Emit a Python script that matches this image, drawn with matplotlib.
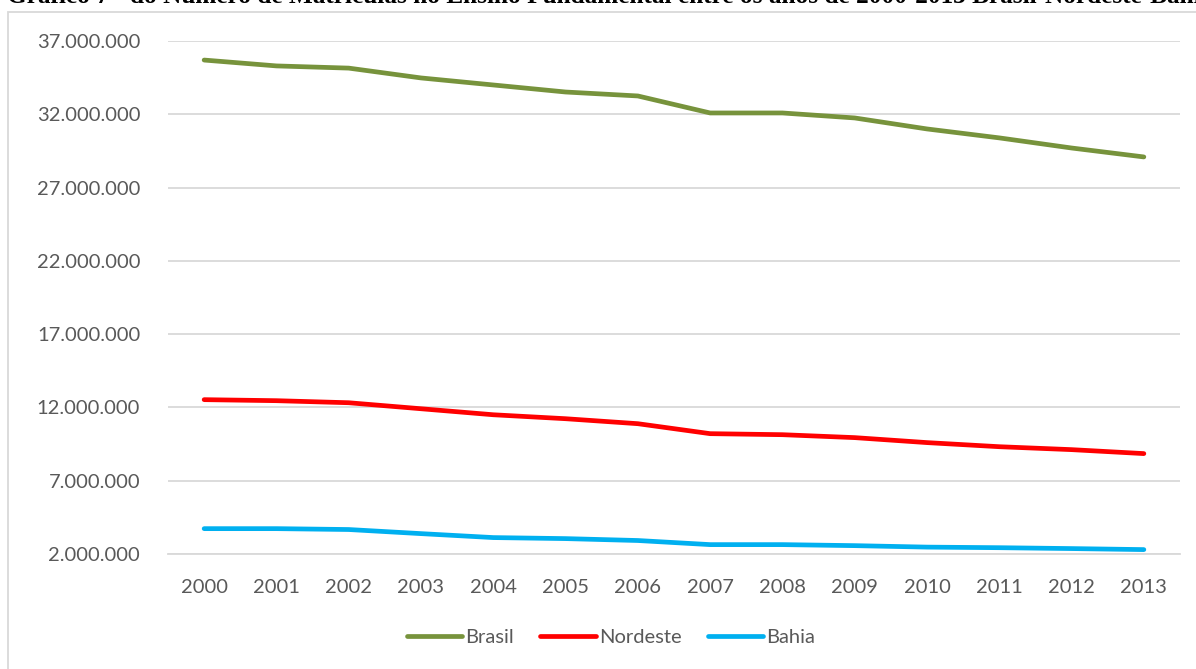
import numpy as np
import matplotlib
matplotlib.use('Agg')
import matplotlib.pyplot as plt
from matplotlib.ticker import FuncFormatter
from matplotlib.patches import Rectangle

years = ['2000', '2001', '2002', '2003', '2004', '2005', '2006',
         '2007', '2008', '2009', '2010', '2011', '2012', '2013']
brasil = [35.70, 35.30, 35.15, 34.48, 34.00, 33.52, 33.25,
          32.09, 32.09, 31.75, 31.00, 30.39, 29.70, 29.09]
nordeste = [12.53, 12.46, 12.32, 11.91, 11.50, 11.23, 10.89,
            10.21, 10.14, 9.94, 9.60, 9.32, 9.12, 8.85]
bahia = [3.73, 3.73, 3.67, 3.39, 3.12, 3.05, 2.92,
         2.64, 2.64, 2.57, 2.47, 2.43, 2.37, 2.30]

title = ('Gráfico 7 - do Número de Matrículas no Ensino Fundamental entre os '
         'anos de 2000-2013 Brasil-Nordeste-Bahia')

GREY = '#595959'
plt.rcParams['font.family'] = ['Lato', 'DejaVu Sans']

fig = plt.figure(figsize=(11.96, 6.69), dpi=100)
ax = fig.add_axes([168/1196, 1 - 554/669, (1180-168)/1196, (554-41)/669])

x = np.arange(len(years))
ax.plot(x, np.array(brasil) * 1e6, color='#77933C', lw=3.4,
        solid_capstyle='round', label='Brasil')
ax.plot(x, np.array(nordeste) * 1e6, color='#FF0000', lw=3.4,
        solid_capstyle='round', label='Nordeste')
ax.plot(x, np.array(bahia) * 1e6, color='#00B0F0', lw=3.4,
        solid_capstyle='round', label='Bahia')

ax.set_xlim(-0.5, len(years) - 0.5)
ax.set_ylim(2e6, 37e6)
ax.set_yticks(np.arange(2e6, 37.1e6, 5e6))
ax.yaxis.set_major_formatter(FuncFormatter(
    lambda v, p: f'{int(v):,}'.replace(',', '.')))
ax.set_xticks(x)
ax.set_xticklabels(years)
ax.tick_params(length=0, labelsize=14.5, colors=GREY)
ax.tick_params(axis='x', pad=18)
ax.tick_params(axis='y', pad=20)
ax.grid(axis='y', color='#D9D9D9', lw=1.3)
ax.set_axisbelow(True)
for s in ['top', 'right', 'left']:
    ax.spines[s].set_visible(False)
ax.spines['bottom'].set_color('#D9D9D9')
ax.spines['bottom'].set_linewidth(1.3)

ax.legend(loc='center', bbox_to_anchor=(611/1196, 1 - 637/669), bbox_transform=fig.transFigure,
          ncol=3, frameon=False, fontsize=14.5, labelcolor=GREY,
          handlelength=2.75, handletextpad=0.15, columnspacing=1.3)

# chart area border (cut by the image edges)
fig.patches.append(Rectangle((8/1196, -0.1), 1.2, 1 - 12/669 + 0.1,
                             transform=fig.transFigure, fill=False,
                             edgecolor='#D9D9D9', lw=1.3))

fig.text(7/1196, 1 - 3/669, title, family='Liberation Serif', weight='bold',
         fontsize=18.2, va='baseline', ha='left')

fig.savefig('out.png', dpi=100)
